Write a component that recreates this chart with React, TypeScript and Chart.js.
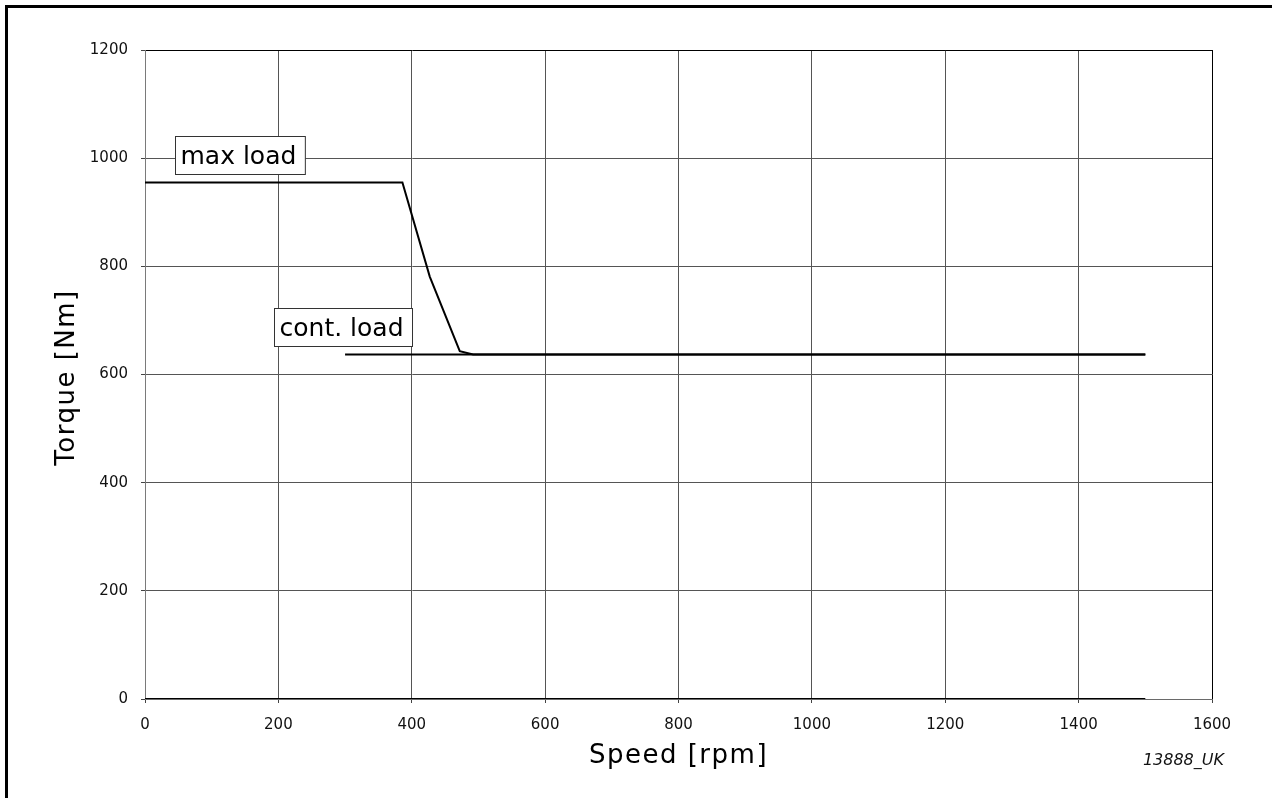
import React, { useEffect, useRef } from 'react';
import { Chart, registerables } from 'chart.js';

Chart.register(...registerables);

// ---- data ----
const maxLoadSpeed = [0, 386, 427, 472, 492, 1500];
const maxLoadTorque = [955, 955, 781, 643, 637, 637];
const contLoadSpeed = [300, 1500];
const contLoadTorque = [637, 637];
const baseSpeed = [0, 1500];
const baseTorque = [0, 0];

const xTickValues = [0, 200, 400, 600, 800, 1000, 1200, 1400, 1600];
const yTickValues = [0, 200, 400, 600, 800, 1000, 1200];

const labelTexts = ['max load', 'cont. load'];
const labelSpeeds = [45, 193];
const labelTorques = [1006, 687];

const xTitle = 'Speed [rpm]';
const yTitle = 'Torque [Nm]';
const figureId = '13888_UK';

const FONT = '"DejaVu Sans", Verdana, sans-serif';

const toPoints = (xs: number[], ys: number[]) => xs.map((v, i) => ({ x: v, y: ys[i] }));

const overlayPlugin = {
  id: 'overlay',
  afterDraw(chart: any) {
    const { ctx, scales } = chart;
    const xs = scales.x;
    const ys = scales.y;
    const area = chart.chartArea;
    ctx.save();
    // boxed labels
    ctx.font = `25px ${FONT}`;
    ctx.textBaseline = 'alphabetic';
    ctx.textAlign = 'left';
    labelTexts.forEach((t, i) => {
      const px = Math.round(xs.getPixelForValue(labelSpeeds[i])) + 0.5;
      const py = ys.getPixelForValue(labelTorques[i]);
      const w = ctx.measureText(t).width;
      const h = 38;
      const top = Math.round(py - h / 2) + 0.5;
      ctx.fillStyle = '#fff';
      ctx.fillRect(px, top, w + 14, h);
      ctx.strokeStyle = '#333';
      ctx.lineWidth = 1;
      ctx.strokeRect(px, top, w + 14, h);
      ctx.fillStyle = '#000';
      ctx.fillText(t, px + 5, py + 9);
    });
    // axis titles
    ctx.fillStyle = '#000';
    ctx.font = `26px ${FONT}`;
    (ctx as any).letterSpacing = '1.5px';
    ctx.textAlign = 'center';
    ctx.textBaseline = 'middle';
    ctx.fillText(xTitle, (area.left + area.right) / 2, 756);
    ctx.save();
    ctx.translate(67, (area.top + area.bottom) / 2 + 3);
    ctx.rotate(-Math.PI / 2);
    ctx.fillText(yTitle, 0, 0);
    ctx.restore();
    (ctx as any).letterSpacing = '0px';
    // figure id
    ctx.font = `italic 16px ${FONT}`;
    ctx.textAlign = 'right';
    ctx.textBaseline = 'alphabetic';
    ctx.fillStyle = '#111';
    ctx.fillText(figureId, 1224, 765);
    ctx.restore();
  },
};

export default function App() {
  const ref = useRef<HTMLCanvasElement | null>(null);

  useEffect(() => {
    document.body.style.margin = '0';
    const canvas = ref.current;
    if (!canvas) return;
    const chart = new Chart(canvas, {
      type: 'line',
      data: {
        datasets: [
          {
            label: 'max load',
            data: toPoints(maxLoadSpeed, maxLoadTorque),
            borderColor: '#000',
            borderWidth: 2,
            pointRadius: 0,
            tension: 0,
            fill: false,
          },
          {
            label: 'cont. load',
            data: toPoints(contLoadSpeed, contLoadTorque),
            borderColor: '#000',
            borderWidth: 2,
            pointRadius: 0,
            tension: 0,
            fill: false,
          },
          {
            label: 'base',
            data: toPoints(baseSpeed, baseTorque),
            borderColor: '#000',
            borderWidth: 2,
            pointRadius: 0,
            tension: 0,
            fill: false,
          },
        ],
      },
      options: {
        animation: false,
        responsive: false,
        maintainAspectRatio: false,
        layout: { padding: { top: 50, right: 60, left: 0, bottom: 0 } },
        plugins: {
          legend: { display: false },
          tooltip: { enabled: false },
          title: { display: false },
        },
        scales: {
          x: {
            type: 'linear',
            min: 0,
            max: 1600,
            afterBuildTicks: (s: any) => {
              s.ticks = xTickValues.map((v) => ({ value: v }));
            },
            afterFit: (s: any) => {
              s.height = 99;
            },
            ticks: {
              color: '#111',
              font: { family: FONT, size: 15 },
              padding: 13,
              maxRotation: 0,
              autoSkip: false,
              callback: (v: any) => String(v),
            },
            grid: {
              color: (c: any) => (c.tick && c.tick.value === 1600 ? '#000' : '#555'),
              lineWidth: 1,
              tickLength: 4,
              tickColor: '#444',
            },
            border: { color: '#6a6a6a', width: 1 },
          },
          y: {
            type: 'linear',
            min: 0,
            max: 1200,
            afterBuildTicks: (s: any) => {
              s.ticks = yTickValues.map((v) => ({ value: v }));
            },
            afterFit: (s: any) => {
              s.width = 145;
            },
            ticks: {
              color: '#111',
              font: { family: FONT, size: 15 },
              padding: 13,
              autoSkip: false,
              callback: (v: any) => String(v),
            },
            grid: {
              color: (c: any) => (c.tick && c.tick.value === 1200 ? '#000' : '#555'),
              lineWidth: 1,
              tickLength: 4,
              tickColor: '#444',
            },
            border: { color: '#7a7a7a', width: 1 },
          },
        },
      },
      plugins: [overlayPlugin],
    });
    return () => chart.destroy();
  }, []);

  return (
    <div style={{ position: 'relative', width: 1272, height: 798, background: '#fff', overflow: 'hidden' }}>
      <canvas ref={ref} width={1272} height={798} style={{ display: 'block', width: 1272, height: 798 }} />
      <div
        style={{
          position: 'absolute',
          left: 5,
          top: 5,
          right: 0,
          bottom: 0,
          borderTop: '3px solid #000',
          borderLeft: '3px solid #000',
          pointerEvents: 'none',
        }}
      />
    </div>
  );
}
